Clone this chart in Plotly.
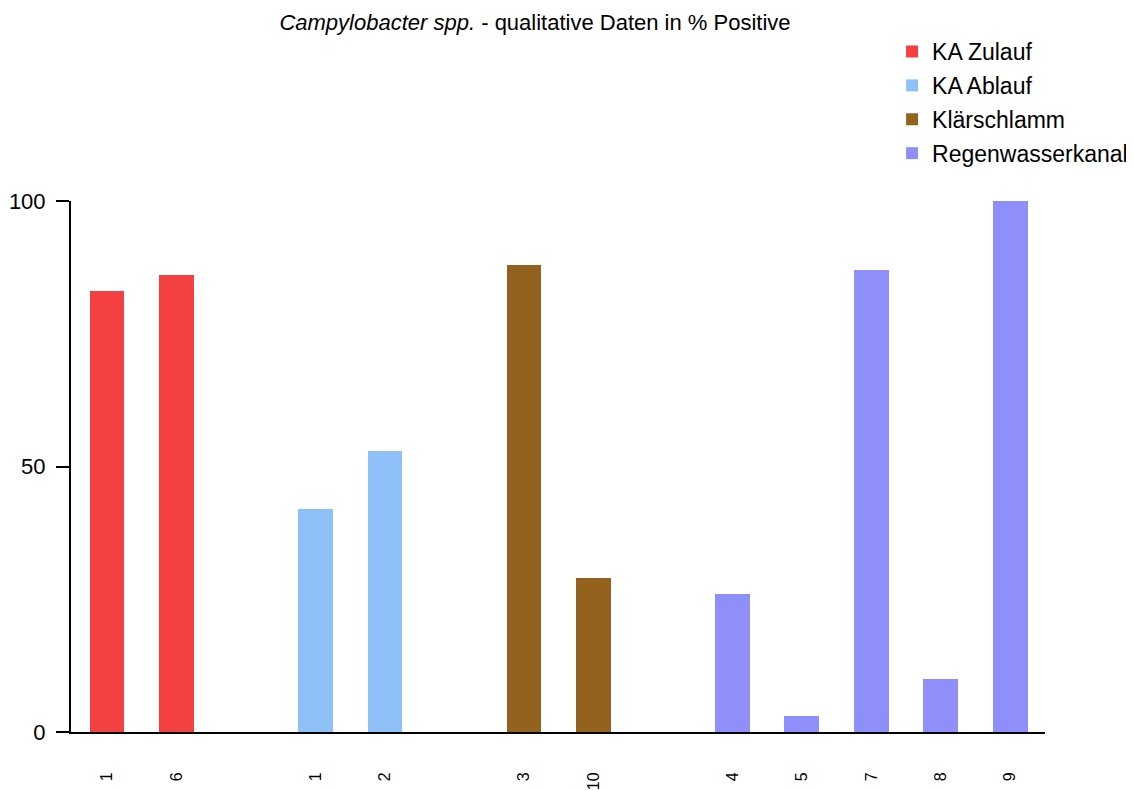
import plotly.graph_objects as go

# ---- data ----
groups = ["KA Zulauf", "KA Ablauf", "Klärschlamm", "Regenwasserkanal"]
colors = ["#F44040", "#90C0F8", "#93621F", "#8F8FFB"]
labels_zulauf = ["1", "6"]
values_zulauf = [83, 86]
labels_ablauf = ["1", "2"]
values_ablauf = [42, 53]
labels_klaer = ["3", "10"]
values_klaer = [88, 29]
labels_regen = ["4", "5", "7", "8", "9"]
values_regen = [26, 3, 87, 10, 100]

all_labels = [labels_zulauf, labels_ablauf, labels_klaer, labels_regen]
all_values = [values_zulauf, values_ablauf, values_klaer, values_regen]

FONT = "Liberation Sans, Arial, sans-serif"

fig = go.Figure()
tickvals, ticktext = [], []
pos = 0
for gi, (name, col, labs, vals) in enumerate(zip(groups, colors, all_labels, all_values)):
    xs = []
    for lab in labs:
        xs.append(pos)
        tickvals.append(pos)
        ticktext.append(lab)
        pos += 1
    pos += 1  # empty slot between groups
    fig.add_trace(go.Bar(
        x=xs, y=vals, name=name, marker=dict(color=col, line=dict(width=0)),
        width=0.5, legendgroup=name,
    ))

fig.update_layout(
    width=1134, height=790,
    paper_bgcolor="white", plot_bgcolor="white",
    margin=dict(l=63, r=97, t=193, b=66, autoexpand=False),
    font=dict(family=FONT, color="black"),
    title=dict(
        text="<i>Campylobacter spp.</i> - qualitative Daten in % Positive",
        x=527 / 1134, xref="container", xanchor="center",
        y=1 - 14 / 790, yref="container", yanchor="middle",
        font=dict(size=22, family=FONT, color="black"),
    ),
    showlegend=True,
    legend=dict(
        x=0.843, y=1.322, xanchor="left", yanchor="top",
        font=dict(size=23, family=FONT, color="black"),
        tracegroupgap=1, bgcolor="rgba(0,0,0,0)",
    ),
    bargap=0,
)
fig.update_xaxes(
    range=[-0.52, 13.5], tickmode="array", tickvals=tickvals, ticktext=ticktext,
    tickangle=-90, ticks="", showgrid=False, zeroline=False,
    showline=True, linecolor="black", linewidth=2,
    tickfont=dict(size=16, family=FONT, color="black"), ticklabelstandoff=32,
)
fig.update_yaxes(
    range=[0, 100], tickvals=[0, 50, 100], ticks="outside", ticklen=13, tickwidth=2,
    tickcolor="black", showgrid=False, zeroline=False,
    showline=True, linecolor="black", linewidth=2,
    tickfont=dict(size=22, family=FONT, color="black"), ticklabelstandoff=6,
)

fig.write_html("out.html")
